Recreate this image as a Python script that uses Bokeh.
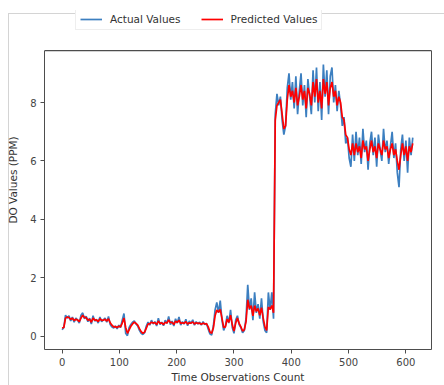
from bokeh.plotting import figure
from bokeh.models import Range1d, Legend, LegendItem, FixedTicker, LinearAxis
from bokeh.embed import file_html
from bokeh.resources import INLINE

obs_index = list(range(0, 613, 3))

actual_values = [
    0.22, 0.30, 0.72, 0.62, 0.70, 0.52, 0.66, 0.48, 0.62, 0.55, 0.45, 0.72, 0.80, 0.60, 0.68,
    0.50, 0.62, 0.42, 0.70, 0.52, 0.58, 0.45, 0.66, 0.50, 0.56, 0.62, 0.48, 0.68, 0.40,
    0.32, 0.28, 0.35, 0.25, 0.38, 0.30, 0.55, 0.78, 0.10, 0.02, 0.30, 0.40, 0.48, 0.52, 0.42,
    0.35, 0.20, 0.10, 0.06, 0.12, 0.35, 0.48,
    0.38, 0.55, 0.42, 0.50, 0.35, 0.62, 0.40, 0.48, 0.36, 0.55, 0.44, 0.68, 0.40, 0.52, 0.35,
    0.60, 0.45, 0.66, 0.38, 0.50, 0.42, 0.58, 0.36, 0.52, 0.44, 0.56, 0.38, 0.50, 0.42, 0.48,
    0.38, 0.50, 0.40, 0.44,
    0.25, 0.08, 0.04, 0.35, 0.90, 1.16, 0.80, 1.22, 0.55, 0.20, 0.35, 0.70, 0.45, 0.90, 0.30,
    0.10, 0.55, 0.70, 0.40, 0.30, 0.12, 0.20,
    0.60, 1.76, 0.90, 1.30, 0.55, 1.50, 0.80, 1.10, 0.60, 1.30, 0.50, 0.20, 0.12, 1.50, 0.90,
    1.50, 0.60,
    7.60, 8.30, 7.90, 8.20, 7.40, 6.90, 7.20, 8.50, 9.00, 8.10, 8.70,
    7.80, 8.90, 7.60, 8.40, 9.00, 7.90, 8.60, 7.50, 8.80, 8.20, 7.60, 9.10, 8.00, 9.20, 7.70,
    8.70, 7.40, 9.30, 8.20, 9.10, 7.60, 8.90, 9.20, 8.00, 8.60, 7.70, 8.40,
    7.90, 7.20, 7.50, 6.60, 6.80, 6.10,
    5.80, 6.90, 6.00, 7.00, 6.20, 6.80, 5.90, 7.10, 6.30, 6.70, 5.70, 6.60, 7.00, 6.20, 6.80,
    5.80, 6.90, 6.40, 6.00, 7.10, 6.30, 6.70, 5.90, 6.50, 7.00, 6.10, 6.60, 5.60, 5.10, 6.40,
    6.90, 6.00, 6.70, 5.60, 6.80, 6.20, 6.80,
]

predicted_values = [
    0.28, 0.30, 0.62, 0.66, 0.64, 0.58, 0.62, 0.54, 0.58, 0.56, 0.50, 0.62, 0.72, 0.64, 0.64,
    0.55, 0.58, 0.48, 0.62, 0.55, 0.56, 0.50, 0.60, 0.54, 0.55, 0.58, 0.52, 0.60, 0.46,
    0.38, 0.32, 0.33, 0.30, 0.34, 0.32, 0.45, 0.62, 0.30, 0.10, 0.22, 0.34, 0.42, 0.48, 0.44,
    0.38, 0.26, 0.16, 0.10, 0.14, 0.28, 0.42,
    0.42, 0.48, 0.45, 0.47, 0.40, 0.52, 0.44, 0.46, 0.40, 0.48, 0.45, 0.56, 0.46, 0.48, 0.40,
    0.52, 0.47, 0.55, 0.44, 0.46, 0.44, 0.50, 0.42, 0.46, 0.45, 0.49, 0.42, 0.46, 0.44, 0.45,
    0.41, 0.45, 0.42, 0.43,
    0.32, 0.15, 0.10, 0.28, 0.70, 0.90, 0.82, 0.92, 0.62, 0.30, 0.32, 0.58, 0.48, 0.72, 0.40,
    0.18, 0.45, 0.62, 0.44, 0.32, 0.18, 0.22,
    0.50, 1.25, 0.95, 1.05, 0.70, 1.05, 0.85, 0.95, 0.72, 0.98, 0.62, 0.32, 0.20, 1.00, 0.92,
    1.05, 0.80,
    7.40, 7.90, 8.00, 8.10, 7.60, 7.10, 7.20, 8.10, 8.60, 8.20, 8.40,
    8.00, 8.50, 7.90, 8.20, 8.60, 8.10, 8.40, 7.80, 8.50, 8.30, 7.90, 8.70, 8.20, 8.80, 8.00,
    8.40, 7.80, 8.80, 8.30, 8.70, 7.90, 8.50, 8.70, 8.20, 8.40, 7.90, 8.20,
    8.00, 7.50, 7.40, 6.90, 6.80, 6.40,
    6.20, 6.60, 6.20, 6.60, 6.30, 6.50, 6.10, 6.70, 6.40, 6.50, 6.00, 6.40, 6.70, 6.30, 6.50,
    6.10, 6.60, 6.40, 6.20, 6.70, 6.40, 6.50, 6.10, 6.40, 6.60, 6.20, 6.40, 6.00, 5.70, 6.20,
    6.60, 6.20, 6.50, 6.00, 6.50, 6.30, 6.60,
]

x_ticks = [0, 100, 200, 300, 400, 500, 600]
y_ticks = [0, 2, 4, 6, 8]

FONT = "DejaVu Sans"
SPINE = "#4d4d4d"
X_LO, X_HI = -30.7, 644.7
Y_LO, Y_HI = -0.454, 9.78   # visible axes box (matplotlib-style margins)

# frame extends above the axes box so the legend can sit there
p = figure(width=444, height=385, output_backend="svg", toolbar_location=None,
           x_range=Range1d(X_LO, X_HI), y_range=Range1d(Y_LO, 11.15),
           min_border_left=44, min_border_right=13, min_border_top=10, min_border_bottom=35)

p.grid.visible = False
p.outline_line_color = None
p.background_fill_color = None
p.border_fill_color = None

# outer screenshot frame lines (left and top), drawn as the page background
p.styles = {
    "background": ("linear-gradient(#d4d4d4, #d4d4d4) 8px 13px / 1px 100% no-repeat, "
                   "linear-gradient(#d4d4d4, #d4d4d4) 8px 13px / 100% 1px no-repeat, white"),
}

# top spine of the axes box: a thin filled band (about 1.3 px tall)
p.quad(left=[X_LO], right=[X_HI], bottom=[Y_HI - 0.022], top=[Y_HI + 0.022],
       fill_color=SPINE, line_color=None)

r_act = p.line(obs_index, actual_values, line_color="#3c7fc0", line_width=1.7)
r_pred = p.line(obs_index, predicted_values, line_color="#ff0000", line_width=1.7)

for ax in (p.xaxis[0], p.yaxis[0]):
    ax.axis_line_color = SPINE
    ax.major_tick_line_color = SPINE
    ax.major_tick_in = 0
    ax.major_tick_out = 4
    ax.minor_tick_line_color = None
    ax.major_label_text_font = FONT
    ax.major_label_text_font_size = "10px"
    ax.major_label_text_color = "#444444"
    ax.axis_label_text_font = FONT
    ax.axis_label_text_font_size = "10.5px"
    ax.axis_label_text_font_style = "normal"
    ax.axis_label_text_color = "#333333"

p.xaxis[0].ticker = FixedTicker(ticks=x_ticks)
p.yaxis[0].ticker = FixedTicker(ticks=y_ticks)
p.yaxis[0].bounds = (Y_LO, Y_HI)
p.xaxis[0].axis_label = "Time Observations Count"
p.yaxis[0].axis_label = "DO Values (PPM)"
p.xaxis[0].axis_label_standoff = 2
p.yaxis[0].axis_label_standoff = 8
p.xaxis[0].major_label_standoff = 4
p.yaxis[0].major_label_standoff = 4

# right spine (axis with no ticks)
right_spine = LinearAxis(bounds=(Y_LO, Y_HI), ticker=FixedTicker(ticks=[]),
                         axis_line_color=SPINE, major_tick_line_color=None,
                         minor_tick_line_color=None, major_tick_out=0, major_tick_in=0)
p.add_layout(right_spine, "right")

legend = Legend(items=[LegendItem(label="Actual Values", renderers=[r_act]),
                       LegendItem(label="Predicted Values", renderers=[r_pred])],
                orientation="horizontal", location=(31, 319),
                label_text_font=FONT, label_text_font_size="10.5px", label_text_color="#333333",
                glyph_width=22, glyph_height=10, spacing=20, padding=4, margin=0,
                label_standoff=8, border_line_color="#dddddd", background_fill_color="white",
                background_fill_alpha=1)
p.add_layout(legend, "center")

open("out.html", "w").write(file_html(p, INLINE))
